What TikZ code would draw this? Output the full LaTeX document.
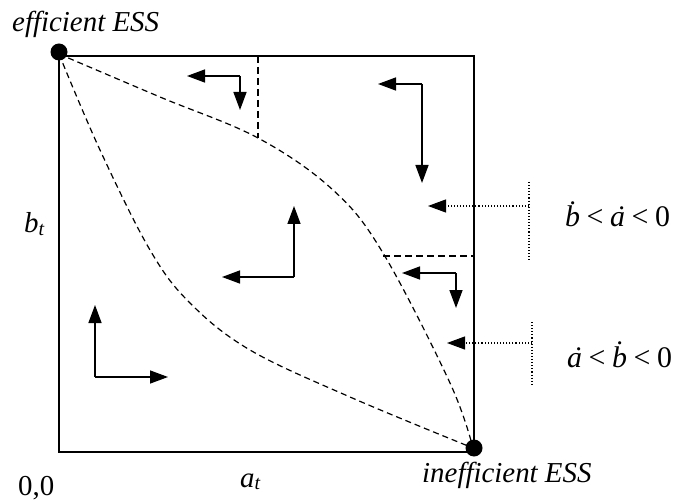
\documentclass[tikz,border=0pt]{standalone}
\usepackage{fontspec}
\setmainfont{Liberation Serif}
\usetikzlibrary{arrows.meta}
\newcommand\dotted[4]{\leavevmode\makebox[0pt][l]{\hspace{#2}\raisebox{#3}{\char"02D9}}#1\hspace{#4}}
\newcommand\bdot{\dotted{b}{0.02em}{0.17em}{0pt}}
\newcommand\adot{\dotted{a}{0.16em}{0em}{0pt}}
\newcommand\lt{\hspace{0.22em}<\hspace{0.22em}}
\begin{document}
\begin{tikzpicture}[x=1bp,y=-1bp,
  lbl/.style={inner sep=0pt,font=\fontsize{29}{32}\selectfont},
  mth/.style={inner sep=0pt,font=\fontsize{30}{32}\selectfont},
  flow/.style={line width=1.5bp,-{Triangle[length=18bp,width=13bp]}},
  dflow/.style={line width=1.1bp,dotted,-{Triangle[length=18bp,width=13bp]}},
  bound/.style={line width=1.1bp,dotted},
  sep/.style={line width=1.3bp,dash pattern=on 7bp off 4bp},
  curve/.style={line width=1.2bp,dash pattern=on 6bp off 4bp},
  ess/.style={circle,fill=black,inner sep=0pt,minimum size=17bp}]
\useasboundingbox (0,0) rectangle (676,500);
% box
\draw[line width=1.6bp] (59,56) rectangle (474,452);
% equilibria
\node[ess] (tl) at (59,52) {};
\node[ess] (br) at (474,448) {};
% separatrices
\draw[curve] plot[smooth,tension=0.6] coordinates {(59,54) (160,97) (258,138) (333,190) (383,253) (450,383) (473,448)};
\draw[curve] plot[smooth,tension=0.6] coordinates {(59,54) (100,150) (150,250) (190,303) (250,350) (350,397) (473,448)};
% short dashed boundaries
\coordinate (v1) at (258,56);
\coordinate (v2) at (258,138);
\draw[sep] (v1) -- (v2);
\coordinate (h1) at (383,256);
\coordinate (h2) at (474,256);
\draw[sep] (h1) -- (h2);
% direction arrows
\coordinate (c1) at (240,76);
\coordinate (c1l) at (187,76);
\coordinate (c1d) at (240,110);
\draw[flow] (c1) -- (c1l);
\draw[flow] (c1) -- (c1d);
\coordinate (c2) at (422,84);
\coordinate (c2l) at (378,84);
\coordinate (c2d) at (422,183);
\draw[flow] (c2) -- (c2l);
\draw[flow] (c2) -- (c2d);
\coordinate (c3) at (294,277);
\coordinate (c3l) at (222,277);
\coordinate (c3u) at (294,206);
\draw[flow] (c3) -- (c3l);
\draw[flow] (c3) -- (c3u);
\coordinate (c4) at (95,377);
\coordinate (c4u) at (95,305);
\coordinate (c4r) at (168,377);
\draw[flow] (c4) -- (c4u);
\draw[flow] (c4) -- (c4r);
\coordinate (c5) at (456,273);
\coordinate (c5l) at (402,273);
\coordinate (c5d) at (456,308);
\draw[flow] (c5) -- (c5l);
\draw[flow] (c5) -- (c5d);
% dotted pointers
\coordinate (p1) at (529,206);
\coordinate (p1t) at (428,206);
\coordinate (p1a) at (529,182);
\coordinate (p1b) at (529,260);
\draw[dflow] (p1) -- (p1t);
\draw[bound] (p1a) -- (p1b);
\coordinate (p2) at (532,343);
\coordinate (p2t) at (447,343);
\coordinate (p2a) at (532,322);
\coordinate (p2b) at (532,386);
\draw[dflow] (p2) -- (p2t);
\draw[bound] (p2a) -- (p2b);
% labels
\node[mth,anchor=base west] (r1) at (565,227) {\textit{\bdot}\lt\textit{\adot}\lt 0};
\node[mth,anchor=base west] (r2) at (567,367) {\textit{\adot}\lt\textit{\bdot}\lt 0};
\node[lbl,anchor=base west] (eff) at (12,32) {\textit{efficient ESS}};
\node[lbl,anchor=base west] (ineff) at (422,482) {\textit{inefficient ESS}};
\node[lbl,anchor=base west] (bt) at (24,233) {\textit{b}\raisebox{-0.2ex}{\fontsize{20}{22}\selectfont\textit{t}}};
\node[lbl,anchor=base west] (at) at (240,487) {\textit{a}\raisebox{-0.2ex}{\fontsize{20}{22}\selectfont\textit{t}}};
\node[lbl,anchor=base west] (orig) at (18,495) {0,0};
\end{tikzpicture}
\end{document}
